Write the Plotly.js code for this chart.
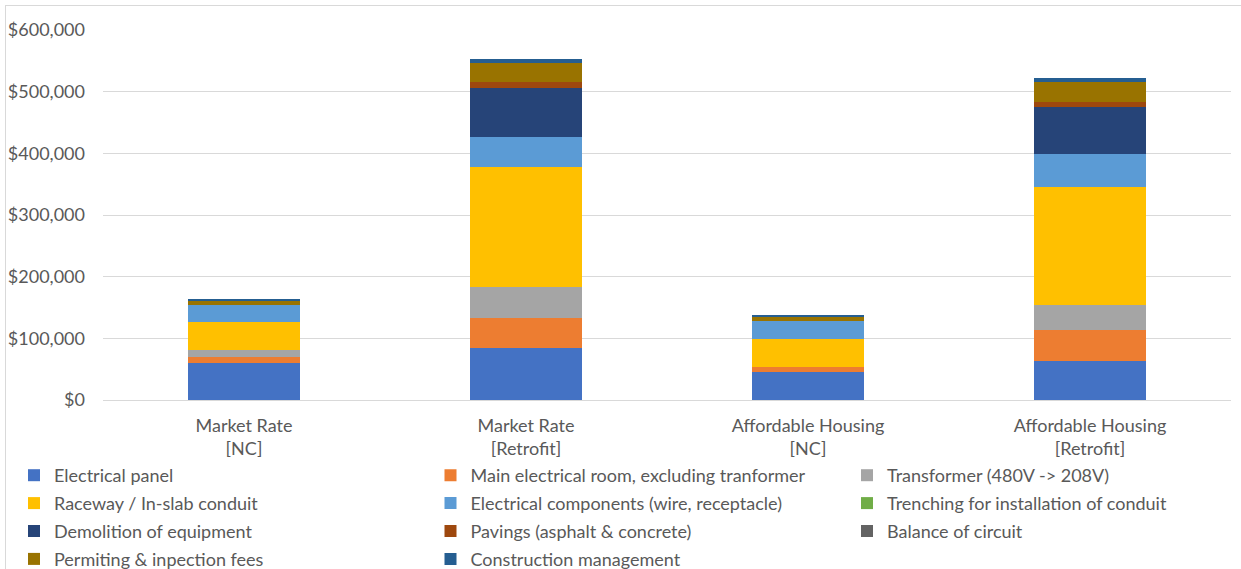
<!DOCTYPE html>
<html>
<head>
<meta charset="utf-8">
<script src="https://cdn.plot.ly/plotly-3.0.1.min.js"></script>
<style>html,body{margin:0;padding:0;background:#fff;}#chart{width:1241px;height:569px;}</style>
</head>
<body>
<div id="chart"></div>
<script>
var categories = ["Market Rate<br>[NC]", "Market Rate<br>[Retrofit]", "Affordable Housing<br>[NC]", "Affordable Housing<br>[Retrofit]"];

var electricalPanel      = [59600, 84000, 46000, 63800];
var mainElectricalRoom   = [10800, 49700, 8100, 49400];
var transformer          = [11400, 49300, 0, 40600];
var raceway              = [45500, 194800, 45000, 192000];
var electricalComponents = [26500, 49200, 29700, 52400];
var trenching            = [0, 0, 0, 0];
var demolition           = [0, 78400, 0, 76300];
var pavings              = [0, 9700, 0, 8100];
var balanceOfCircuit     = [0, 0, 0, 0];
var permitting           = [7000, 31500, 6500, 32500];
var constructionMgmt     = [2700, 7000, 2700, 6500];

var seriesNames = ["Electrical panel", "Main electrical room, excluding tranformer", "Transformer (480V -> 208V)",
  "Raceway / In-slab conduit", "Electrical components (wire, receptacle)", "Trenching for installation of conduit",
  "Demolition of equipment", "Pavings (asphalt & concrete)", "Balance of circuit",
  "Permiting & inpection fees", "Construction management"];
var seriesValues = [electricalPanel, mainElectricalRoom, transformer, raceway, electricalComponents, trenching,
  demolition, pavings, balanceOfCircuit, permitting, constructionMgmt];
var colors = ["#4472C4", "#ED7D31", "#A5A5A5", "#FFC000", "#5B9BD5", "#70AD47",
  "#264478", "#9E480E", "#636363", "#997300", "#255E91"];

var yTickVals = [0, 100000, 200000, 300000, 400000, 500000, 600000];
var yTickText = ["$0", "$100,000", "$200,000", "$300,000", "$400,000", "$500,000", "$600,000"];

var legendIds = ["legend", "legend2", "legend3"];

var traces = seriesNames.map(function(n, i) {
  return {
    type: "bar",
    name: n,
    x: categories,
    y: seriesValues[i],
    legend: legendIds[i % 3],
    legendgroup: "g" + i,
    marker: {color: colors[i], line: {width: 0}},
    hoverinfo: "name+y"
  };
});

var W = 1241, H = 569;
var plotL = 103, plotR = 10, plotT = 30, plotB = 169;
var plotW = W - plotL - plotR, plotH = H - plotT - plotB;
function px(x) { return (x - plotL) / plotW; }
function py(y) { return (H - plotB - y) / plotH; }

function makeLegend(leftPx) {
  return {
    orientation: "v",
    xref: "paper",
    yref: "container",
    x: px(leftPx),
    xanchor: "left",
    y: 1 - 457 / H,
    yanchor: "top",
    traceorder: "grouped",
    tracegroupgap: 1.5,
    itemclick: false,
    font: {family: "Lato, 'Open Sans', sans-serif", size: 18, color: "#595959"},
    bgcolor: "rgba(0,0,0,0)",
    borderwidth: 0
  };
}

var layout = {
  width: W,
  height: H,
  barmode: "stack",
  bargap: 0.6,
  paper_bgcolor: "#ffffff",
  plot_bgcolor: "#ffffff",
  margin: {l: plotL, r: plotR, t: plotT, b: plotB},
  font: {family: "Lato, 'Open Sans', sans-serif", size: 18, color: "#595959"},
  xaxis: {
    showgrid: false,
    showline: false,
    ticks: "",
    ticklabelstandoff: 13,
    tickfont: {size: 18, color: "#595959"},
    automargin: false,
    fixedrange: true
  },
  yaxis: {
    range: [0, 600000],
    tickmode: "array",
    tickvals: yTickVals,
    ticktext: yTickText,
    showgrid: true,
    gridcolor: "#d9d9d9",
    gridwidth: 1,
    zeroline: true,
    zerolinecolor: "#d9d9d9",
    zerolinewidth: 1,
    showline: false,
    ticks: "",
    ticklabelstandoff: 17,
    tickfont: {size: 18, color: "#595959"},
    automargin: false,
    fixedrange: true
  },
  showlegend: true,
  legend: makeLegend(14),
  legend2: makeLegend(430.5),
  legend3: makeLegend(847),
  shapes: [
    {type: "line", xref: "paper", yref: "paper", x0: px(5), x1: px(1245), y0: py(5.5), y1: py(5.5),
     line: {color: "#d9d9d9", width: 1}, layer: "below"},
    {type: "line", xref: "paper", yref: "paper", x0: px(5.5), x1: px(5.5), y0: py(5.5), y1: py(575),
     line: {color: "#d9d9d9", width: 1}, layer: "below"}
  ]
};

Plotly.newPlot("chart", traces, layout, {displayModeBar: false, staticPlot: true});
</script>
</body>
</html>
